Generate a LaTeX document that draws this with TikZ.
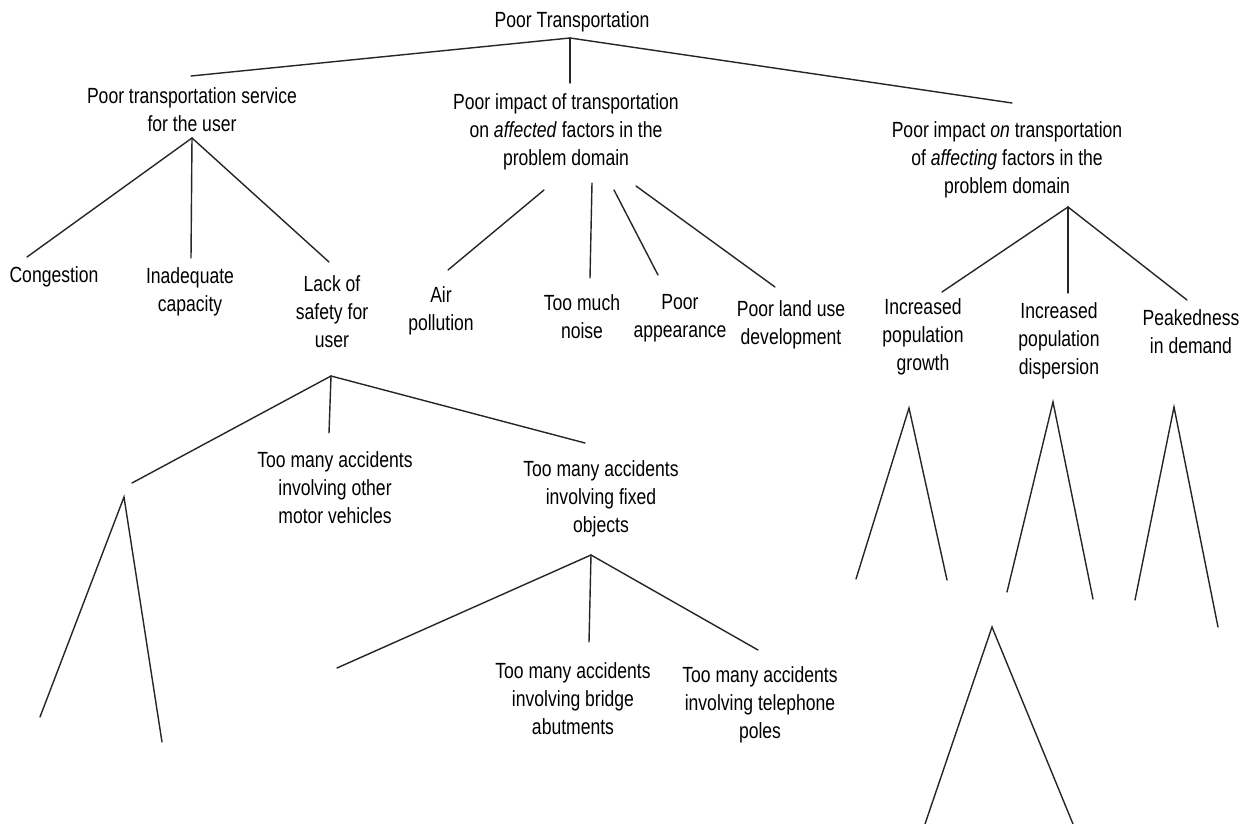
\documentclass[tikz,border=0pt]{standalone}
\usepackage{fontspec}
\setmainfont{Liberation Sans}[FakeStretch=0.8]
\usetikzlibrary{positioning}
\tikzset{
  % texte
  lbl/.style={align=center,inner sep=1pt,
              font=\fontsize{12.5}{16}\selectfont},
  % zweige
  br/.style={draw=black!85,line width=0.8pt,line cap=round},
}

\begin{document}
\begin{tikzpicture}[x=0.02cm,y=-0.02cm]
\useasboundingbox (0,0) rectangle (1251,824);
  % ebene 0 und 1
  \node[lbl] (root) at (572,22) {Poor Transportation};
  \node[lbl] (user) at (192,110) {Poor transportation service\\for the user};
  \node[lbl] (affd) at (566,132) {Poor impact of transportation\\on \textit{affected} factors in the\\problem domain};
  \node[lbl] (affg) at (1007,160) {Poor impact \textit{on} transportation\\of \textit{affecting} factors in the\\problem domain};
  % ebene 2
  \node[lbl] (cong) at (54,277) {Congestion};
  \node[lbl] (inad) at (190,292) {Inadequate\\capacity};
  \node[lbl] (lack) at (332,312) {Lack of\\safety for\\user};
  \node[lbl] (air) at (441,311) {Air\\pollution};
  \node[lbl] (noise) at (582,317) {Too much\\noise};
  \node[lbl] (look) at (680,318) {Poor\\appearance};
  \node[lbl] (land) at (791,325) {Poor land use\\development};
  \node[lbl] (grow) at (923,337) {Increased\\population\\growth};
  \node[lbl] (disp) at (1059,341) {Increased\\population\\dispersion};
  \node[lbl] (peak) at (1191,332) {Peakedness\\in demand};
  % ebene 3 und 4
  \node[lbl] (other) at (335,488) {Too many accidents\\involving other\\motor vehicles};
  \node[lbl] (fixed) at (601,499) {Too many accidents\\involving fixed\\objects};
  \node[lbl] (bridge) at (573,699) {Too many accidents\\involving bridge\\abutments};
  \node[lbl] (pole) at (760,705) {Too many accidents\\involving telephone\\poles};

  % verzweigungspunkte
  \coordinate (root-a) at (570,38);
  \coordinate (user-a) at (192,138);
  \coordinate (affg-a) at (1068,207);
  \coordinate (lack-a) at (331,376);
  \coordinate (fixed-a) at (591,555);
  % obere enden
  \coordinate (user-t) at (191,76);
  \coordinate (affd-t) at (570,83);
  \coordinate (affg-t) at (1012,103);
  \coordinate (cong-t) at (27,257);
  \coordinate (inad-t) at (191,258);
  \coordinate (lack-t) at (329,262);
  \coordinate (grow-t) at (942,292);
  \coordinate (disp-t) at (1068,293);
  \coordinate (peak-t) at (1187,300);
  \coordinate (hid-t) at (132,483);
  \coordinate (other-t) at (329,433);
  \coordinate (fixed-t) at (585,443);
  \coordinate (hid2-t) at (337,668);
  \coordinate (bridge-t) at (589,642);
  \coordinate (pole-t) at (758,650);

  \foreach \c in {user,affd,affg} \draw[br] (root-a) -- (\c-t);
  \foreach \c in {cong,inad,lack} \draw[br] (user-a) -- (\c-t);
  \foreach \c in {grow,disp,peak} \draw[br] (affg-a) -- (\c-t);
  \foreach \c in {hid,other,fixed} \draw[br] (lack-a) -- (\c-t);
  \foreach \c in {hid2,bridge,pole} \draw[br] (fixed-a) -- (\c-t);

  % faecher unter affd
  \coordinate (affd-a1) at (544,190); \coordinate (air-t) at (448,270);
  \coordinate (affd-a2) at (592,183); \coordinate (noise-t) at (590,278);
  \coordinate (affd-a3) at (614,190); \coordinate (look-t) at (658,275);
  \coordinate (affd-a4) at (636,186); \coordinate (land-t) at (775,287);
  \draw[br] (affd-a1) -- (air-t);
  \draw[br] (affd-a2) -- (noise-t);
  \draw[br] (affd-a3) -- (look-t);
  \draw[br] (affd-a4) -- (land-t);

  % leere teilbaeume
  \coordinate (t1) at (124,497); \coordinate (t1l) at (40,717);  \coordinate (t1r) at (162,742);
  \coordinate (t2) at (909,408); \coordinate (t2l) at (856,579); \coordinate (t2r) at (947,580);
  \coordinate (t3) at (1053,402); \coordinate (t3l) at (1007,592); \coordinate (t3r) at (1093,599);
  \coordinate (t4) at (1174,407); \coordinate (t4l) at (1135,600); \coordinate (t4r) at (1218,627);
  \coordinate (t5) at (992,627); \coordinate (t5l) at (925,824); \coordinate (t5r) at (1073,824);
  \foreach \t in {t1,t2,t3,t4,t5} \draw[br] (\t l) -- (\t) -- (\t r);
\end{tikzpicture}
\end{document}
